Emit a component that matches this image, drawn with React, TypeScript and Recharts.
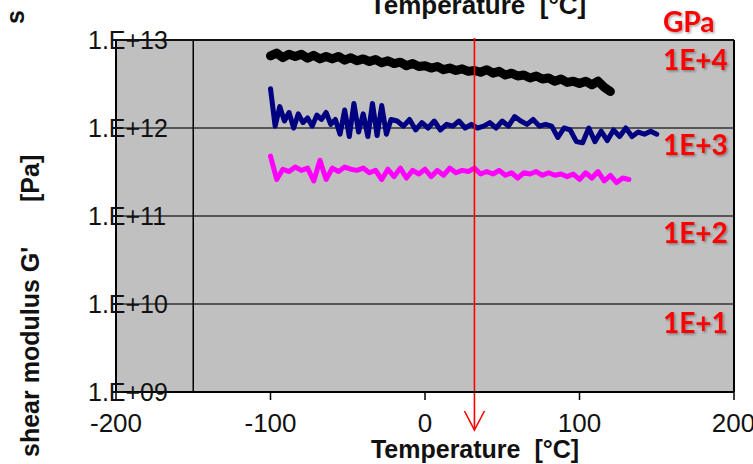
import React from "react";
import {
  LineChart, Line, XAxis, YAxis, CartesianGrid, ReferenceLine,
} from "recharts";

const W = 753;
const H = 464;

const X_TICKS = [-200, -100, 0, 100, 200];
const Y_TICKS = [1e9, 1e10, 1e11, 1e12, 1e13];
const GPA_LABELS = ["1E+4", "1E+3", "1E+2", "1E+1"];
const GPA_Y = [70, 155, 243, 333];

// black curve
const BLACK_T = [
  -100, -96, -92, -88, -84, -80, -76, -72, -68, -64,
  -60, -56, -52, -48, -44, -40, -36, -32, -28, -24,
  -20, -16, -12, -8, -4, 0, 4, 8, 12, 16,
  20, 24, 28, 32, 36, 40, 44, 48, 52, 56,
  60, 64, 68, 72, 76, 80, 84, 88, 92, 96,
  100, 104, 108, 112, 116, 120,
];
const BLACK_G = [
  6.6e12, 7.1e12, 6.3e12, 6.9e12, 6.5e12, 6.9e12, 6.2e12, 6.7e12, 6.1e12, 6.5e12,
  6.1e12, 6.5e12, 5.9e12, 6.3e12, 5.8e12, 6.1e12, 5.7e12, 6.0e12, 5.5e12, 5.8e12,
  5.4e12, 5.6e12, 5.1e12, 5.4e12, 5.0e12, 5.1e12, 4.8e12, 5.0e12, 4.6e12, 4.8e12,
  4.5e12, 4.7e12, 4.4e12, 4.5e12, 4.3e12, 4.6e12, 4.2e12, 4.4e12, 4.0e12, 4.2e12,
  3.9e12, 4.0e12, 3.7e12, 3.9e12, 3.6e12, 3.7e12, 3.4e12, 3.6e12, 3.3e12, 3.4e12,
  3.2e12, 3.4e12, 3.1e12, 3.4e12, 2.9e12, 2.6e12,
];

// navy curve
const NAVY_T = [
  -100, -97, -94, -91, -88, -85, -82, -79, -76, -73,
  -70, -67, -64, -61, -58, -55, -52, -49, -46, -43,
  -40, -37, -34, -31, -28, -25, -22,
  -18, -14, -10, -6, -2, 2, 6, 10, 14, 18,
  22, 26, 30, 34, 38, 42, 46, 50, 54, 58,
  62, 66, 70, 74, 78, 82, 86, 90, 94, 98,
  102, 106, 110, 114, 118, 122, 126, 130, 134, 138,
  142, 146, 150,
];
const NAVY_G = [
  2.8e12, 1.05e12, 1.75e12, 1.2e12, 1.5e12, 1.0e12, 1.45e12, 1.15e12, 1.3e12, 1.05e12,
  1.4e12, 1.25e12, 1.5e12, 1.1e12, 1.25e12, 0.85e12, 1.6e12, 0.8e12, 1.9e12, 0.9e12,
  1.45e12, 0.8e12, 1.9e12, 0.82e12, 1.8e12, 0.85e12, 1.25e12,
  1.2e12, 1.05e12, 1.25e12, 0.95e12, 1.15e12, 1.0e12, 1.2e12, 0.95e12, 1.1e12, 1.05e12,
  1.2e12, 1.0e12, 1.1e12, 1.0e12, 1.05e12, 1.15e12, 1.0e12, 1.2e12, 1.05e12, 1.35e12,
  1.2e12, 1.1e12, 1.25e12, 1.05e12, 1.1e12, 1.05e12, 0.78e12, 1.0e12, 0.95e12, 0.7e12,
  0.68e12, 1.0e12, 0.7e12, 0.92e12, 0.72e12, 0.95e12, 0.8e12, 1.0e12, 0.8e12, 0.9e12,
  0.85e12, 0.92e12, 0.85e12,
];

// magenta curve
const PINK_T = [
  -100, -96, -92, -88, -84, -80, -76, -72, -68, -64,
  -60, -56, -52, -48, -44, -40, -36, -32, -28, -24,
  -20, -16, -12, -8, -4, 0, 4, 8, 12, 16,
  20, 24, 28, 32, 36, 40, 44, 48, 52, 56,
  60, 64, 68, 72, 76, 80, 84, 88, 92, 96,
  100, 104, 108, 112, 116, 120, 124, 128, 132,
];
const PINK_G = [
  4.8e11, 2.6e11, 3.4e11, 3.2e11, 3.6e11, 3.3e11, 3.5e11, 2.5e11, 4.3e11, 2.6e11,
  3.5e11, 3.2e11, 3.6e11, 3.4e11, 3.3e11, 3.5e11, 3.1e11, 3.3e11, 2.6e11, 3.4e11,
  2.8e11, 3.5e11, 2.7e11, 3.3e11, 3.0e11, 3.4e11, 2.8e11, 3.3e11, 2.9e11, 3.5e11,
  3.1e11, 3.3e11, 3.2e11, 3.5e11, 3.0e11, 3.2e11, 3.0e11, 3.3e11, 2.9e11, 3.1e11,
  2.7e11, 3.1e11, 3.0e11, 3.2e11, 2.9e11, 3.1e11, 2.9e11, 3.0e11, 2.8e11, 3.0e11,
  2.6e11, 3.1e11, 2.7e11, 3.2e11, 2.5e11, 2.9e11, 2.4e11, 2.7e11, 2.6e11,
];

const ARROW_T = 32;

const toRows = (t: number[], g: number[]) => t.map((x, i) => ({ t: x, g: g[i] }));

const FONT = "'Liberation Sans', Arial, sans-serif";
const RED_FONT = "Lato, 'Open Sans', sans-serif";

function YTick(props: any) {
  const { y, payload } = props;
  const exp = Math.round(Math.log10(payload.value));
  return (
    <text x={88} y={y + 9} fontSize={25} fontFamily={FONT} fill="#111">
      {`1.E+${String(exp).padStart(2, "0")}`}
    </text>
  );
}

function Arrow(props: any) {
  const { x1, y1, y2 } = props;
  const top = Math.min(y1, y2) - 2;
  const tip = Math.max(y1, y2) + 38;
  return (
    <g stroke="#ff0000" strokeWidth={1.6} fill="none">
      <line x1={x1} x2={x1} y1={top} y2={tip} />
      <polyline points={`${x1 - 10},${tip - 19} ${x1},${tip} ${x1 + 10},${tip - 19}`} />
    </g>
  );
}

export default function App() {
  const black = toRows(BLACK_T, BLACK_G);
  const navy = toRows(NAVY_T, NAVY_G);
  const pink = toRows(PINK_T, PINK_G);

  return (
    <div style={{ position: "absolute", left: 0, top: 0, width: W, height: H, background: "#fff" }}>
      <LineChart width={W} height={H} margin={{ top: 40, right: 19, bottom: 32, left: 56 }}>
        <CartesianGrid vertical={false} fill="#c0c0c0" stroke="#333" strokeWidth={1.3} />
        <XAxis
          type="number"
          dataKey="t"
          domain={[-200, 200]}
          ticks={X_TICKS}
          allowDuplicatedCategory={false}
          height={40}
          tickSize={8}
          tickMargin={14}
          tick={{ fontSize: 26, fontFamily: FONT, fill: "#111" }}
          axisLine={{ stroke: "#000", strokeWidth: 2 }}
          tickLine={{ stroke: "#000", strokeWidth: 1.5 }}
        />
        <YAxis
          type="number"
          scale="log"
          domain={[1e9, 1e13]}
          ticks={Y_TICKS}
          allowDataOverflow
          width={60}
          tick={<YTick />}
          tickLine={false}
          axisLine={{ stroke: "#000", strokeWidth: 2 }}
        />
        <ReferenceLine x={-150} stroke="#000" strokeWidth={1.5} />
        <ReferenceLine x={200} stroke="#000" strokeWidth={2} />
        <ReferenceLine y={1e13} stroke="#111" strokeWidth={2} />
        <Line data={black} dataKey="g" type="linear" stroke="#000" strokeWidth={9}
          strokeLinejoin="round" strokeLinecap="round" dot={false} isAnimationActive={false} />
        <Line data={navy} dataKey="g" type="linear" stroke="#000080" strokeWidth={5}
          strokeLinejoin="round" strokeLinecap="round" dot={false} isAnimationActive={false} />
        <Line data={pink} dataKey="g" type="linear" stroke="#ff00ff" strokeWidth={5}
          strokeLinejoin="round" strokeLinecap="round" dot={false} isAnimationActive={false} />
        <ReferenceLine x={ARROW_T} shape={<Arrow />} />
      </LineChart>
      <svg width={W} height={H} style={{ position: "absolute", left: 0, top: 0, pointerEvents: "none" }}>
        <defs>
          <filter id="sh" x="-10%" y="-10%" width="130%" height="140%">
            <feDropShadow dx="1.5" dy="1.5" stdDeviation="0.8" floodColor="#000" floodOpacity="0.35" />
          </filter>
        </defs>
        <text x={478} y={14} textAnchor="middle" fontSize={26} fontWeight="bold" fontFamily={FONT} fill="#111"
          style={{ whiteSpace: "pre" }}>
          {"Temperature  [°C]"}
        </text>
        <text transform="translate(24,24) rotate(-90)" fontSize={25} fontWeight="bold" fontFamily={FONT} fill="#111">
          s
        </text>
        <text x={475} y={458} textAnchor="middle" fontSize={25} fontWeight="bold" fontFamily={FONT} fill="#111"
          style={{ whiteSpace: "pre" }}>
          {"Temperature  [°C]"}
        </text>
        <text transform="translate(39,457) rotate(-90)" fontSize={25} fontWeight="bold" fontFamily={FONT} fill="#111">
          shear modulus G'
        </text>
        <text transform="translate(39,202) rotate(-90)" fontSize={25} fontWeight="bold" fontFamily={FONT} fill="#111">
          [Pa]
        </text>
        <g fill="#ff0000" fontFamily={RED_FONT} fontWeight="bold" fontSize={28} filter="url(#sh)">
          <text x={663} y={32}>GPa</text>
          {GPA_LABELS.map((s, i) => (
            <text key={s} x={663} y={GPA_Y[i]}>{s}</text>
          ))}
        </g>
      </svg>
    </div>
  );
}
